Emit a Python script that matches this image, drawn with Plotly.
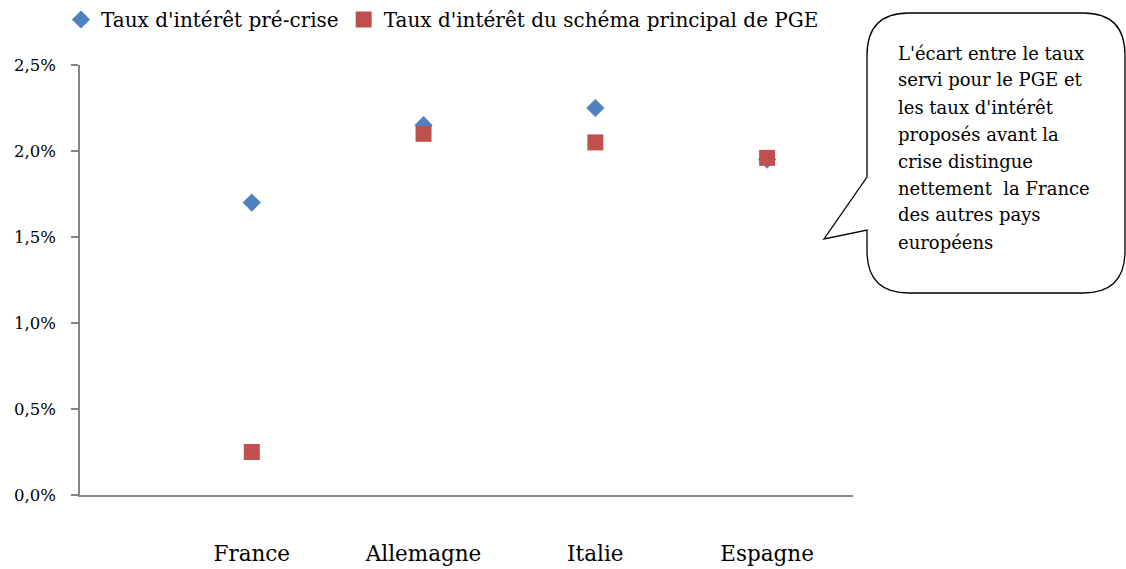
import plotly.graph_objects as go

# Data
pays = ["France", "Allemagne", "Italie", "Espagne"]
taux_pre_crise = [0.0170, 0.0215, 0.0225, 0.0195]
taux_pge = [0.0025, 0.0210, 0.0205, 0.0196]
y_ticks = [0.0, 0.005, 0.010, 0.015, 0.020, 0.025]
bulle_lignes = [
    "L'écart entre le taux",
    "servi pour le PGE et",
    "les taux d'intérêt",
    "proposés avant la",
    "crise distingue",
    "nettement  la France",
    "des autres pays",
    "européens",
]

FONT = "DejaVu Serif"
W, H = 1126, 569
L, R, T, B = 80, 273, 65, 74
PW, PH = W - L - R, H - T - B


def px(x):
    return (x - L) / PW


def py(y):
    return (T + PH - y) / PH


fig = go.Figure()
fig.add_trace(go.Scatter(
    x=pays, y=taux_pre_crise, mode="markers", name="Taux d'intérêt pré-crise",
    marker=dict(symbol="diamond", size=14, color="#4F81BD"),
))
fig.add_trace(go.Scatter(
    x=pays, y=taux_pge, mode="markers", name="Taux d'intérêt du schéma principal de PGE",
    marker=dict(symbol="square", size=16, color="#C0504D"),
))

# Speech-bubble callout (rounded box with a pointer to the left)
x0, x1, y0, y1, r = 867, 1125, 13, 293, 42
pts = [
    ("M", x0, y0 + r),
    ("Q", x0, y0, x0 + r, y0),
    ("L", x1 - r, y0),
    ("Q", x1, y0, x1, y0 + r),
    ("L", x1, y1 - r),
    ("Q", x1, y1, x1 - r, y1),
    ("L", x0 + r, y1),
    ("Q", x0, y1, x0, y1 - r),
    ("L", x0, 230),
    ("L", 824, 239),
    ("L", x0, 177),
    ("Z",),
]
path = ""
for p in pts:
    s = p[0]
    coords = p[1:]
    for i in range(0, len(coords), 2):
        s += f" {px(coords[i]):.5f},{py(coords[i + 1]):.5f}"
    path += s + " "
fig.add_shape(type="path", path=path.strip(), xref="paper", yref="paper",
              line=dict(color="black", width=1.3), fillcolor="white", layer="above")

for i, ligne in enumerate(bulle_lignes):
    fig.add_annotation(
        xref="paper", yref="paper", x=px(896), y=py(53 + 27 * i),
        xanchor="left", yanchor="middle", align="left", showarrow=False,
        text=ligne, font=dict(family=FONT, size=18, color="black"),
    )

fig.update_layout(
    width=W, height=H, margin=dict(l=L, r=R, t=T, b=B, autoexpand=False),
    paper_bgcolor="white", plot_bgcolor="white",
    separators=", ",
    font=dict(family=FONT, color="black"),
    showlegend=True,
    legend=dict(orientation="h", xref="container", yref="container",
                x=61 / W, y=1.0, xanchor="left", yanchor="top",
                font=dict(family=FONT, size=20),
                tracegroupgap=0, bgcolor="rgba(0,0,0,0)"),
)
fig.update_xaxes(
    type="category", range=[-1, 3.5], showgrid=False, zeroline=False, automargin=False,
    showline=True, linecolor="#868686", linewidth=1.5, ticks="",
    tickfont=dict(family=FONT, size=21.5), ticklabelstandoff=38,
)
fig.update_yaxes(
    range=[0, 0.025], tickvals=y_ticks, tickformat=".1%", showgrid=False, zeroline=False,
    automargin=False,
    showline=True, linecolor="#868686", linewidth=1.5, ticks="outside", ticklen=7,
    tickcolor="#868686", tickwidth=1.5, tickfont=dict(family=FONT, size=16.5),
    ticklabelstandoff=12,
)

fig.write_html("out.html")
